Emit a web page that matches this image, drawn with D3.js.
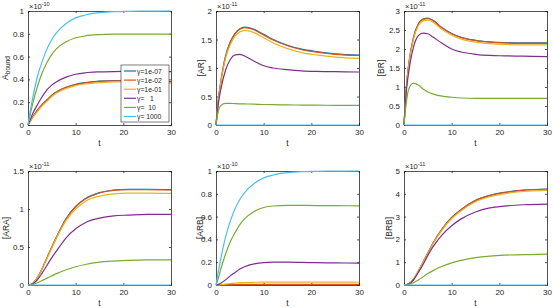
<!DOCTYPE html>
<html>
<head>
<meta charset="utf-8">
<script src="https://cdn.jsdelivr.net/npm/d3@7"></script>
<style>
  body { margin: 0; background: #fff; }
  svg text { font-family: "Liberation Sans", Arial, sans-serif; }
</style>
</head>
<body>
<svg width="553" height="308" font-family="Liberation Sans, Arial, sans-serif"></svg>
<script>
// time points
const T = [0, 0.5, 1, 2, 3, 4, 5, 6, 8, 10, 12, 15, 18, 21, 25, 30];
const gammaLabels = ["γ=1e-07", "γ=1e-02", "γ=1e-01", "γ=   1", "γ=  10", "γ= 1000"];
const colors = ["#0072BD", "#D95319", "#EDB120", "#7E2F8E", "#77AC30", "#4DBEEE"];

// A_bound (x1e-10), series in gamma order
const aBound = [
  [0, 0.036, 0.071, 0.131, 0.181, 0.221, 0.261, 0.291, 0.331, 0.357, 0.372, 0.385, 0.39, 0.39, 0.387, 0.38],
  [0, 0.036, 0.07, 0.13, 0.18, 0.22, 0.26, 0.29, 0.33, 0.355, 0.37, 0.383, 0.388, 0.388, 0.385, 0.378],
  [0, 0.035, 0.065, 0.12, 0.17, 0.21, 0.25, 0.28, 0.32, 0.345, 0.36, 0.372, 0.377, 0.377, 0.374, 0.368],
  [0, 0.05, 0.1, 0.18, 0.25, 0.31, 0.35, 0.38, 0.42, 0.445, 0.458, 0.466, 0.469, 0.47, 0.47, 0.468],
  [0, 0.1, 0.19, 0.34, 0.46, 0.55, 0.62, 0.67, 0.73, 0.765, 0.782, 0.793, 0.797, 0.798, 0.798, 0.797],
  [0, 0.13, 0.24, 0.43, 0.56, 0.67, 0.75, 0.81, 0.89, 0.94, 0.965, 0.985, 0.994, 0.997, 0.999, 1.0]
];
// [AR] (x1e-11)
const arData = [
  [0, 0.455, 0.76, 1.21, 1.46, 1.61, 1.69, 1.718, 1.678, 1.59, 1.5, 1.4, 1.33, 1.29, 1.25, 1.228],
  [0, 0.45, 0.75, 1.2, 1.45, 1.6, 1.68, 1.71, 1.67, 1.58, 1.49, 1.39, 1.32, 1.28, 1.24, 1.22],
  [0, 0.44, 0.73, 1.17, 1.41, 1.56, 1.63, 1.66, 1.62, 1.53, 1.44, 1.34, 1.27, 1.23, 1.19, 1.17],
  [0, 0.38, 0.62, 0.96, 1.15, 1.23, 1.24, 1.21, 1.12, 1.04, 1.0, 0.97, 0.95, 0.94, 0.935, 0.93],
  [0, 0.25, 0.34, 0.38, 0.38, 0.375, 0.372, 0.37, 0.365, 0.36, 0.357, 0.353, 0.35, 0.348, 0.346, 0.345],
  [0, 0, 0, 0, 0, 0, 0, 0, 0, 0, 0, 0, 0, 0, 0, 0]
];
// [BR] (x1e-11)
const brData = [
  [0, 1.01, 1.615, 2.315, 2.665, 2.79, 2.81, 2.76, 2.56, 2.41, 2.31, 2.23, 2.19, 2.17, 2.16, 2.16],
  [0, 1.0, 1.6, 2.3, 2.65, 2.78, 2.8, 2.75, 2.55, 2.4, 2.3, 2.22, 2.18, 2.16, 2.15, 2.15],
  [0, 0.98, 1.57, 2.26, 2.61, 2.74, 2.76, 2.71, 2.51, 2.36, 2.26, 2.18, 2.14, 2.12, 2.11, 2.11],
  [0, 0.9, 1.4, 2.05, 2.35, 2.42, 2.4, 2.32, 2.15, 2.0, 1.92, 1.86, 1.83, 1.82, 1.81, 1.8],
  [0, 0.6, 0.95, 1.1, 1.05, 0.95, 0.87, 0.82, 0.76, 0.73, 0.71, 0.7, 0.7, 0.7, 0.7, 0.7],
  [0, 0, 0, 0, 0, 0, 0, 0, 0, 0, 0, 0, 0, 0, 0, 0]
];
// [ARA] (x1e-11)
const araData = [
  [0, 0.005, 0.02, 0.1, 0.22, 0.36, 0.5, 0.635, 0.875, 1.035, 1.135, 1.215, 1.25, 1.26, 1.26, 1.255],
  [0, 0.005, 0.02, 0.1, 0.22, 0.36, 0.5, 0.63, 0.87, 1.03, 1.13, 1.21, 1.245, 1.255, 1.255, 1.25],
  [0, 0.005, 0.02, 0.1, 0.22, 0.35, 0.49, 0.62, 0.85, 1.0, 1.1, 1.17, 1.2, 1.21, 1.21, 1.205],
  [0, 0.004, 0.015, 0.07, 0.16, 0.26, 0.36, 0.45, 0.62, 0.74, 0.82, 0.88, 0.91, 0.92, 0.93, 0.93],
  [0, 0.002, 0.008, 0.03, 0.06, 0.09, 0.12, 0.15, 0.2, 0.24, 0.27, 0.3, 0.315, 0.325, 0.33, 0.33],
  [0, 0, 0, 0, 0, 0, 0, 0, 0, 0, 0, 0, 0, 0, 0, 0]
];
// [ARB] (x1e-10)
const arbData = [
  [0, 0, 0, 0.001, 0.001, 0.002, 0.002, 0.002, 0.002, 0.002, 0.002, 0.002, 0.002, 0.002, 0.002, 0.002],
  [0, 0, 0.001, 0.002, 0.003, 0.004, 0.005, 0.005, 0.006, 0.006, 0.006, 0.006, 0.006, 0.006, 0.006, 0.006],
  [0, 0.001, 0.003, 0.008, 0.013, 0.017, 0.02, 0.022, 0.024, 0.025, 0.025, 0.025, 0.025, 0.025, 0.025, 0.024],
  [0, 0.005, 0.015, 0.045, 0.08, 0.11, 0.14, 0.16, 0.185, 0.197, 0.2, 0.2, 0.198, 0.196, 0.194, 0.192],
  [0, 0.06, 0.14, 0.27, 0.38, 0.46, 0.53, 0.58, 0.645, 0.68, 0.693, 0.698, 0.698, 0.697, 0.696, 0.694],
  [0, 0.12, 0.23, 0.42, 0.56, 0.67, 0.75, 0.81, 0.89, 0.94, 0.965, 0.985, 0.994, 0.997, 0.999, 1.0]
];
// [BRB] (x1e-11)
const brbData = [
  [0, 0.01, 0.05, 0.25, 0.6, 1.0, 1.41, 1.81, 2.46, 2.96, 3.31, 3.71, 3.93, 4.06, 4.16, 4.21],
  [0, 0.01, 0.05, 0.25, 0.6, 1.0, 1.4, 1.8, 2.45, 2.95, 3.3, 3.7, 3.92, 4.05, 4.15, 4.2],
  [0, 0.01, 0.05, 0.26, 0.61, 1.0, 1.4, 1.78, 2.42, 2.91, 3.26, 3.65, 3.87, 4.0, 4.1, 4.15],
  [0, 0.01, 0.05, 0.22, 0.55, 0.9, 1.3, 1.65, 2.2, 2.6, 2.9, 3.2, 3.38, 3.46, 3.52, 3.55],
  [0, 0.005, 0.03, 0.1, 0.22, 0.36, 0.5, 0.62, 0.82, 0.97, 1.08, 1.2, 1.27, 1.31, 1.33, 1.35],
  [0, 0, 0, 0, 0, 0, 0, 0, 0, 0, 0, 0, 0, 0, 0, 0]
];

const xTicks = [0, 10, 20, 30];

const svg = d3.select("svg");

// panel placement
const panels = [
  {data: aBound, label: "A", sub: "bound", exp: "-10", ymax: 1, step: 0.2, x: 28, y: 11, lab: 20, legend: true},
  {data: arData, label: "[AR]", exp: "-11", ymax: 2, step: 0.5, x: 216, y: 11, lab: 12},
  {data: brData, label: "[BR]", exp: "-11", ymax: 3, step: 0.5, x: 404, y: 11, lab: 20},
  {data: araData, label: "[ARA]", exp: "-11", ymax: 1.5, step: 0.5, x: 28, y: 171, lab: 19},
  {data: arbData, label: "[ARB]", exp: "-10", ymax: 1, step: 0.2, x: 216, y: 171, lab: 13},
  {data: brbData, label: "[BRB]", exp: "-11", ymax: 5, step: 1, x: 404, y: 171, lab: 12}
];
const w = 143, h = 114;
const fmt = d => String(+d.toFixed(2));
const font = "Liberation Sans, Arial, sans-serif";

panels.forEach(p => {
  const g = svg.append("g").attr("transform", `translate(${p.x},${p.y})`);
  const x = d3.scaleLinear().domain([0, 30]).range([0, w]);
  const y = d3.scaleLinear().domain([0, p.ymax]).range([h, 0]);
  const yTicks = d3.range(0, p.ymax + 1e-9, p.step);

  // ticks inside, on all sides
  g.append("g").attr("transform", `translate(0,${h})`)
    .call(d3.axisBottom(x).tickValues(xTicks).tickSize(-2).tickPadding(4).tickFormat(fmt));
  g.append("g")
    .call(d3.axisTop(x).tickValues(xTicks).tickSize(-2).tickFormat(""));
  g.append("g")
    .call(d3.axisLeft(y).tickValues(yTicks).tickSize(-2).tickPadding(4).tickFormat(fmt));
  g.append("g").attr("transform", `translate(${w},0)`)
    .call(d3.axisRight(y).tickValues(yTicks).tickSize(-2).tickFormat(""));
  g.selectAll("g").attr("font-family", font);
  g.selectAll(".domain").attr("stroke", "#262626").attr("stroke-width", 0.8);
  g.selectAll(".tick line").attr("stroke", "#262626").attr("stroke-width", 0.8);
  g.selectAll(".tick text").attr("font-size", 8).attr("fill", "#262626");

  const line = d3.line()
    .x((d, i) => x(T[i]))
    .y(d => y(d))
    .curve(d3.curveMonotoneX);

  p.data.forEach((s, k) => {
    g.append("path")
      .attr("d", line(s))
      .attr("fill", "none")
      .attr("stroke", colors[k])
      .attr("stroke-width", 1.2);
  });

  // exponent
  const e = g.append("text").attr("x", 1).attr("y", -2).attr("font-size", 7.5)
    .attr("font-family", font).attr("fill", "#262626");
  e.append("tspan").text("×10");
  e.append("tspan").attr("dy", -3).attr("font-size", 5.5).text(p.exp);

  // labels
  g.append("text").attr("x", w / 2).attr("y", h + 21).attr("font-family", font)
    .attr("text-anchor", "middle").attr("font-size", 8.5).attr("fill", "#262626").text("t");
  const yl = g.append("text")
    .attr("transform", `translate(${-p.lab},${h / 2}) rotate(-90)`).attr("font-family", font)
    .attr("text-anchor", "middle").attr("font-size", 8.5).attr("fill", "#262626");
  yl.append("tspan").text(p.label);
  if (p.sub) yl.append("tspan").attr("dy", 2).attr("font-size", 6.5).text(p.sub);

  if (p.legend) {
    const lg = g.append("g").attr("transform", `translate(${w - 50},${54})`);
    lg.append("rect").attr("width", 48).attr("height", 57)
      .attr("fill", "#fff").attr("stroke", "#262626").attr("stroke-width", 0.6);
    gammaLabels.forEach((t, k) => {
      const yy = 6 + k * 9.1;
      lg.append("line").attr("x1", 3).attr("x2", 15).attr("y1", yy).attr("y2", yy)
        .attr("stroke", colors[k]).attr("stroke-width", 1.2);
      lg.append("text").attr("x", 16).attr("y", yy + 2.5).attr("font-size", 6.8)
        .attr("font-family", font).attr("fill", "#262626").style("white-space", "pre").text(t);
    });
  }
});
</script>
</body>
</html>
